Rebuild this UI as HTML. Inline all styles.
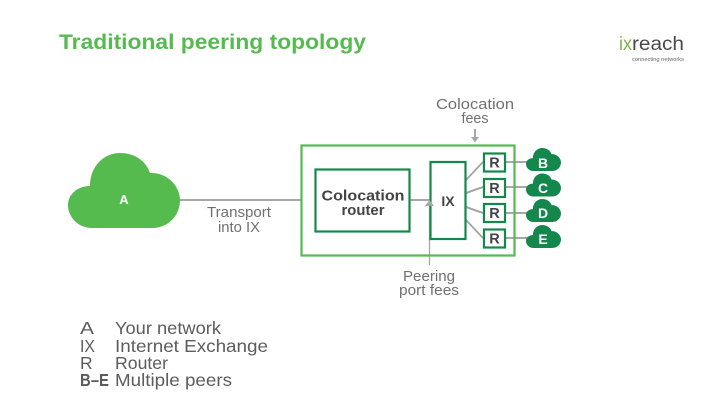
<!DOCTYPE html>
<html>
<head>
<meta charset="utf-8">
<style>
html,body{margin:0;padding:0;background:#fff;}
svg{display:block;filter:blur(0.3px);}
text{font-family:"Liberation Sans",sans-serif;}
</style>
</head>
<body>
<svg width="720" height="405" viewBox="0 0 720 405" xmlns="http://www.w3.org/2000/svg">
<rect width="720" height="405" fill="#fff"/>

<text x="59" y="49" font-size="21.500" font-weight="700" fill="#55bb4f" textLength="307" lengthAdjust="spacingAndGlyphs">Traditional peering topology</text>

<!-- logo -->
<text x="619" y="50" font-size="19" fill="#7ab648" textLength="13" lengthAdjust="spacingAndGlyphs">ix</text>
<text x="632" y="50" font-size="19" fill="#4a4a4a" textLength="52" lengthAdjust="spacingAndGlyphs">reach</text>
<text x="632" y="61" font-size="5.500" fill="#666" textLength="52" lengthAdjust="spacingAndGlyphs">connecting networks</text>

<!-- connectors -->
<g stroke="#a5a8a5" stroke-width="2" fill="none">
<line x1="178" y1="200" x2="301" y2="200"/>
<line x1="410" y1="200" x2="430" y2="200"/>
<line x1="466" y1="180" x2="483" y2="162"/>
<line x1="466" y1="193" x2="483" y2="187"/>
<line x1="466" y1="207" x2="483" y2="213"/>
<line x1="466" y1="220" x2="483" y2="238"/>
<line x1="505" y1="162" x2="530" y2="162"/>
<line x1="505" y1="187" x2="530" y2="187"/>
<line x1="505" y1="213" x2="530" y2="213"/>
<line x1="505" y1="238" x2="530" y2="238"/>
<line x1="475" y1="129" x2="475" y2="139"/>
</g>
<line x1="429.500" y1="203" x2="429.500" y2="265" stroke="#a5a8a5" stroke-width="1.300"/>
<polygon points="471,137 479,137 475,142.500" fill="#a5a8a5"/>

<!-- boxes -->
<rect x="301.500" y="145.500" width="213" height="110" fill="none" stroke="#55bb4f" stroke-width="2.200"/>
<rect x="315.500" y="169.500" width="94" height="62" fill="none" stroke="#14884c" stroke-width="2.200"/>
<rect x="430.500" y="162" width="35" height="77" fill="none" stroke="#14884c" stroke-width="2.200"/>
<polygon points="425,206 434,206 429.500,200" fill="#a5a8a5"/>
<g fill="#fff" stroke="#14884c" stroke-width="2.200">
<rect x="484" y="153.500" width="21" height="18"/>
<rect x="484" y="179" width="21" height="18"/>
<rect x="484" y="204" width="21" height="18"/>
<rect x="484" y="229.500" width="21" height="18"/>
</g>

<g font-weight="700" fill="#444" text-anchor="middle">
<text x="363" y="200.500" font-size="15" textLength="83" lengthAdjust="spacingAndGlyphs">Colocation</text>
<text x="363" y="215" font-size="15" textLength="43" lengthAdjust="spacingAndGlyphs">router</text>
<text x="448" y="206" font-size="14">IX</text>
<text x="494.500" y="167.500" font-size="14.500">R</text>
<text x="494.500" y="193" font-size="14.500">R</text>
<text x="494.500" y="218" font-size="14.500">R</text>
<text x="494.500" y="243.500" font-size="14.500">R</text>
</g>

<!-- big cloud -->
<path id="big" d="M92 228 C78 228 68 217 68 205 C68 194 78 186 90 186 C90 166 104 153 120 153 C135 153 146 161 150 173 C167 172 180 186 180 200 C180 216 168 228 152 228 Z" fill="#55bb4f"/>
<text x="124" y="204" font-size="13" font-weight="700" fill="#fff" text-anchor="middle">A</text>

<!-- small clouds -->
<defs>
<path id="c" d="M92 228 C78 228 68 217 68 205 C68 194 78 186 90 186 C90 166 104 153 120 153 C135 153 146 161 150 173 C167 172 180 186 180 200 C180 216 168 228 152 228 Z" fill="#14884c" transform="translate(526 148) scale(0.3125 0.307) translate(-68 -153)"/>
</defs>
<use href="#c"/>
<use href="#c" y="25.500"/>
<use href="#c" y="51"/>
<use href="#c" y="77"/>
<g font-size="14" font-weight="700" fill="#fff" text-anchor="middle">
<text x="543" y="168">B</text>
<text x="543" y="193">C</text>
<text x="543" y="218">D</text>
<text x="543" y="244">E</text>
</g>

<!-- gray labels -->
<g font-size="14.500" fill="#707070" text-anchor="middle">
<text x="475" y="109" textLength="78" lengthAdjust="spacingAndGlyphs">Colocation</text>
<text x="475" y="123" textLength="27" lengthAdjust="spacingAndGlyphs">fees</text>
<text x="239" y="217" textLength="64" lengthAdjust="spacingAndGlyphs">Transport</text>
<text x="239" y="232" textLength="42" lengthAdjust="spacingAndGlyphs">into IX</text>
<text x="429" y="281" textLength="52" lengthAdjust="spacingAndGlyphs">Peering</text>
<text x="429" y="295" textLength="60" lengthAdjust="spacingAndGlyphs">port fees</text>
</g>

<!-- legend -->
<g font-size="17.500" fill="#5c5c5c">
<text x="80" y="334" textLength="14" lengthAdjust="spacingAndGlyphs">A</text>
<text x="80" y="352" textLength="15" lengthAdjust="spacingAndGlyphs">IX</text>
<text x="80" y="369">R</text>
<text x="80" y="386" textLength="29" lengthAdjust="spacingAndGlyphs" font-weight="700">B–E</text>
<text x="115" y="334" textLength="106" lengthAdjust="spacingAndGlyphs">Your network</text>
<text x="115" y="352" textLength="153" lengthAdjust="spacingAndGlyphs">Internet Exchange</text>
<text x="115" y="369" textLength="53" lengthAdjust="spacingAndGlyphs">Router</text>
<text x="115" y="386" textLength="117" lengthAdjust="spacingAndGlyphs">Multiple peers</text>
</g>
</svg>
</body>
</html>
